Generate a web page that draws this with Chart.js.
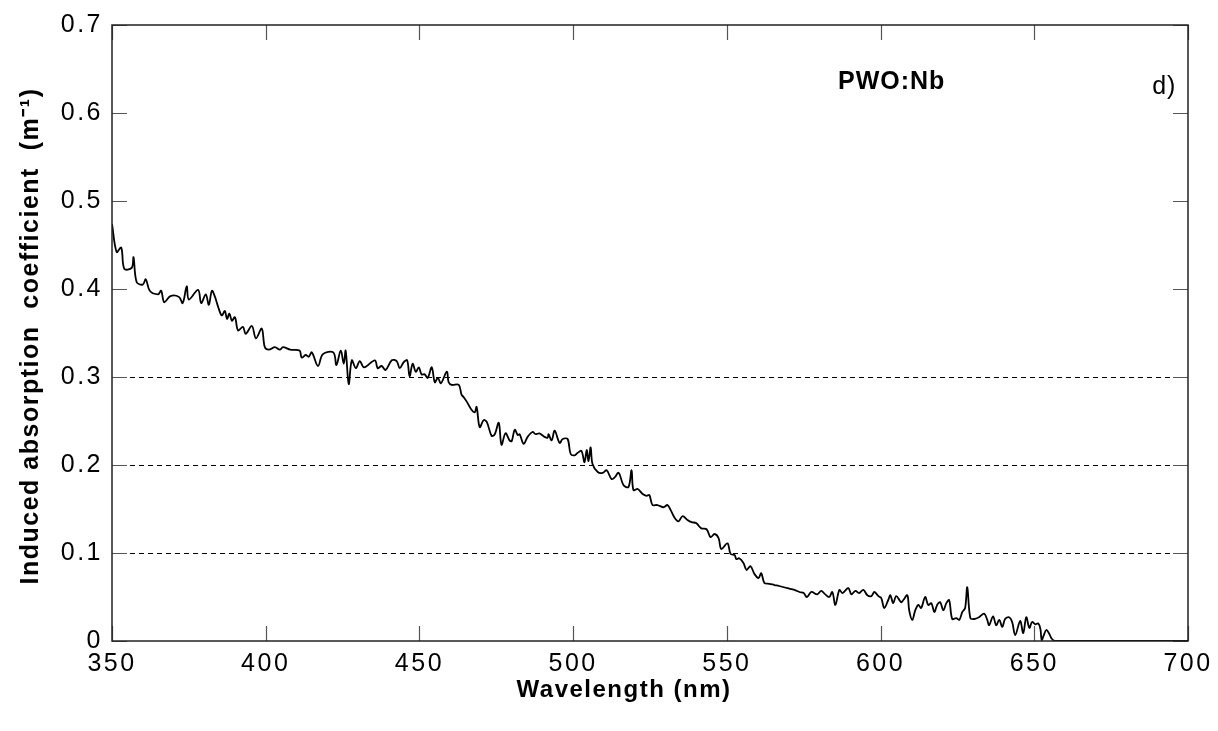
<!DOCTYPE html>
<html>
<head>
<meta charset="utf-8">
<script src="https://cdn.jsdelivr.net/npm/chart.js@4/dist/chart.umd.min.js"></script>
<style>
  html, body { margin: 0; padding: 0; background: #fff; }
  #wrap { width: 1218px; height: 731px; }
</style>
</head>
<body>
<div id="wrap"><canvas id="c" width="1218" height="731"></canvas></div>
<script>
// ---- data ----
const wavelength = [
  350, 351.5, 353, 354, 356.4, 357, 358, 360, 361, 362.3, 365, 366, 367, 369, 371.8, 373, 374.3, 375,
  378, 379, 380.5, 381.5, 382.5, 383.5, 384.5, 385.7, 386.7, 387.4, 388.2, 389, 390, 391, 392.6, 393.5,
  395.5, 396.8, 398.7, 399.7, 401, 403, 404.6, 405.6, 408, 411, 411.7, 413, 414, 415, 417, 418.6, 422,
  423, 424.4, 425.4, 426, 427, 428, 429.3, 430.6, 432, 435.5, 436.4, 437.7, 439, 441, 442.6, 443.6,
  444.9, 446, 446.8, 447.8, 448.8, 449.8, 450.7, 451.7, 452.7, 454, 455, 456, 457, 458.9, 459.5, 460.5,
  462.8, 463.7, 464.4, 465.4, 467, 468, 468.6, 469.6, 470.9, 471.9, 473.5, 474.5, 475.8, 476.7, 478,
  479.3, 480, 481, 482, 482.6, 483.9, 485.2, 486.8, 487.8, 489, 490.7, 491.7, 492, 493, 494, 495.6,
  496.6, 498.2, 499.2, 500.5, 501.4, 502.7, 503.7, 504.4, 505, 505.7, 506.3, 508, 509.6, 510.9, 512.5,
  513.5, 514.8, 516.4, 518, 519, 519.6, 521, 522.6, 523.9, 524.8, 525.8, 527.4, 529.4, 530.7, 531.7,
  533, 534.3, 535.6, 537.2, 538.5, 540, 541.7, 543.4, 544.7, 546, 547.3, 548.2, 550.2, 551.2, 552.5,
  553.1, 554, 555.4, 556.4, 557.7, 559, 560.3, 561.2, 562.2, 563.8, 565.5, 567, 569.7, 572, 573.6, 575,
  576, 577.5, 579.4, 580.7, 582, 583.3, 584.3, 585.3, 586.6, 587.6, 589.5, 590.5, 591.8, 593, 594.4,
  595.7, 597, 598, 599.3, 600.2, 601.2, 602.5, 603.2, 604.1, 605.1, 606.7, 607.4, 608.7, 609.3, 610.3,
  611.3, 612.3, 613.2, 614.5, 615.5, 616.5, 617.5, 618.4, 619.4, 620.4, 621.4, 622.3, 623.3, 624.6,
  625.6, 626.6, 627.5, 628.2, 629.2, 630.5, 632, 633.7, 634.7, 635.3, 636.6, 637.6, 638.6, 639.6, 640.5,
  641.8, 642.8, 643.8, 645.4, 646.4, 647.4, 648.4, 649.3, 650.3, 651.3, 652, 652.4, 653, 653.9, 654.9,
  655.6, 656.8, 700
];
const absorption = [
  0.474, 0.442, 0.447, 0.423, 0.424, 0.436, 0.408, 0.405, 0.411, 0.398, 0.394, 0.398, 0.385, 0.392, 0.391, 0.384, 0.403, 0.388,
  0.399, 0.384, 0.394, 0.382, 0.398, 0.391, 0.380, 0.370, 0.375, 0.366, 0.372, 0.364, 0.368, 0.353, 0.357, 0.349,
  0.358, 0.344, 0.355, 0.334, 0.331, 0.334, 0.331, 0.334, 0.331, 0.330, 0.322, 0.325, 0.323, 0.328, 0.3125, 0.326, 0.328,
  0.3136, 0.330, 0.315, 0.330, 0.292, 0.319, 0.310, 0.318, 0.311, 0.319, 0.310, 0.3125, 0.308, 0.319, 0.318, 0.310,
  0.317, 0.319, 0.301, 0.315, 0.306, 0.311, 0.303, 0.303, 0.299, 0.311, 0.294, 0.299, 0.293, 0.306, 0.294, 0.291,
  0.291, 0.280, 0.277, 0.272, 0.2625, 0.260, 0.266, 0.243, 0.251, 0.249, 0.233, 0.235, 0.248, 0.223, 0.236,
  0.228, 0.227, 0.240, 0.234, 0.235, 0.224, 0.232, 0.2375, 0.235, 0.236, 0.232, 0.231, 0.235, 0.228, 0.239, 0.225,
  0.2295, 0.2295, 0.2125, 0.211, 0.2136, 0.216, 0.203, 0.217, 0.2045, 0.220, 0.201, 0.192, 0.191, 0.194, 0.184,
  0.186, 0.191, 0.177, 0.175, 0.194, 0.1716, 0.1727, 0.167, 0.165, 0.166, 0.1545, 0.1545, 0.152, 0.1545, 0.149,
  0.140, 0.136, 0.142, 0.1375, 0.135, 0.134, 0.128, 0.127, 0.118, 0.1216, 0.117, 0.1045, 0.111, 0.099, 0.0977,
  0.093, 0.094, 0.0886, 0.0807, 0.085, 0.076, 0.0716, 0.077, 0.066, 0.065, 0.0636, 0.0625, 0.060, 0.058, 0.0557, 0.0545,
  0.050, 0.0557, 0.053, 0.057, 0.053, 0.050, 0.0557, 0.041, 0.058, 0.0545, 0.0602, 0.053, 0.057, 0.0545, 0.058,
  0.052, 0.051, 0.0557, 0.051, 0.049, 0.0375, 0.0466, 0.052, 0.043, 0.051, 0.044, 0.0466, 0.052, 0.035, 0.0239,
  0.035, 0.041, 0.0375, 0.050, 0.041, 0.043, 0.033, 0.041, 0.044, 0.035, 0.043, 0.0466, 0.025, 0.026,
  0.024, 0.033, 0.0375, 0.061, 0.026, 0.025, 0.027, 0.031, 0.024, 0.018, 0.028, 0.018, 0.024, 0.016, 0.025,
  0.027, 0.0216, 0.0068, 0.0227, 0.009, 0.027, 0.015, 0.0216, 0.019, 0.020, 0.0136, 0.001, 0.0057, 0.0125, 0.008,
  0.003, 0, 0
];
const xTicks = [350, 400, 450, 500, 550, 600, 650, 700];
const xTickLabels = ['350', '400', '450', '500', '550', '600', '650', '700'];
const yTicks = [0, 0.1, 0.2, 0.3, 0.4, 0.5, 0.6, 0.7];
const yTickLabels = ['0', '0.1', '0.2', '0.3', '0.4', '0.5', '0.6', '0.7'];
const dashedGridValues = [0.1, 0.2, 0.3];
const xTitle = 'Wavelength (nm)';
const yTitle = 'Induced absorption  coefficient  (m\u207B\u00B9)';
const sampleLabel = 'PWO:Nb';
const panelLabel = 'd)';

const points = wavelength.map((w, i) => ({ x: w, y: absorption[i] }));

const FONT = '"Liberation Sans", Arial, Helvetica, sans-serif';

const framePlugin = {
  id: 'frame',
  beforeDraw(chart) {
    chart.ctx.letterSpacing = '2.5px';
  },
  beforeDatasetsDraw(chart) {
    const { ctx, chartArea: a, scales } = chart;
    ctx.save();
    ctx.letterSpacing = '0px';
    ctx.strokeStyle = '#000';
    ctx.lineWidth = 1;
    ctx.setLineDash([5, 4]);
    dashedGridValues.forEach(v => {
      const y = Math.round(scales.y.getPixelForValue(v)) + 0.5;
      ctx.beginPath();
      ctx.moveTo(a.left, y);
      ctx.lineTo(a.right, y);
      ctx.stroke();
    });
    ctx.setLineDash([]);
    ctx.strokeStyle = '#555';
    ctx.lineWidth = 1.2;
    const L = 15;
    xTicks.forEach(v => {
      const x = Math.round(scales.x.getPixelForValue(v)) + 0.5;
      ctx.beginPath();
      ctx.moveTo(x, a.bottom); ctx.lineTo(x, a.bottom - L);
      ctx.moveTo(x, a.top); ctx.lineTo(x, a.top + L);
      ctx.stroke();
    });
    yTicks.forEach(v => {
      const y = Math.round(scales.y.getPixelForValue(v)) + 0.5;
      ctx.beginPath();
      ctx.moveTo(a.left, y); ctx.lineTo(a.left + L, y);
      ctx.moveTo(a.right, y); ctx.lineTo(a.right - L, y);
      ctx.stroke();
    });
    ctx.restore();
  },
  afterDraw(chart) {
    const { ctx, chartArea: a, scales } = chart;
    ctx.save();
    ctx.strokeStyle = '#222';
    ctx.lineWidth = 1.5;
    ctx.strokeRect(a.left, a.top, a.right - a.left, a.bottom - a.top);
    ctx.fillStyle = '#000';
    ctx.letterSpacing = '1.5px';
    ctx.font = 'bold 24px ' + FONT;
    ctx.textAlign = 'center';
    ctx.textBaseline = 'middle';
    ctx.fillText(xTitle, 624, 690);
    ctx.save();
    ctx.translate(31, 336);
    ctx.rotate(-Math.PI / 2);
    ctx.letterSpacing = '1.5px';
    ctx.font = 'bold 25px ' + FONT;
    ctx.fillText(yTitle, 0, 0);
    ctx.restore();
    ctx.letterSpacing = '1px';
    ctx.font = 'bold 25px ' + FONT;
    ctx.fillText(sampleLabel, scales.x.getPixelForValue(603.6), scales.y.getPixelForValue(0.635));
    ctx.font = '25px ' + FONT;
    ctx.fillText(panelLabel, scales.x.getPixelForValue(692.3), scales.y.getPixelForValue(0.629));
    ctx.restore();
  }
};

new Chart(document.getElementById('c'), {
  type: 'line',
  data: {
    datasets: [{
      data: points,
      borderColor: '#000',
      borderWidth: 1.8,
      pointRadius: 0,
      tension: 0.35,
      fill: false
    }]
  },
  options: {
    responsive: false,
    animation: false,
    events: [],
    layout: { padding: { top: 25, right: 30, left: 0, bottom: 0 } },
    plugins: { legend: { display: false }, tooltip: { enabled: false } },
    scales: {
      x: {
        type: 'linear',
        min: 350, max: 700,
        afterBuildTicks: s => { s.ticks = xTicks.map(v => ({ value: v })); },
        ticks: {
          color: '#000',
          font: { family: FONT, size: 25 },
          padding: 8,
          maxRotation: 0,
          callback: (v) => { const i = xTicks.indexOf(v); return i >= 0 ? xTickLabels[i] : ''; }
        },
        grid: { display: false, drawTicks: false },
        border: { display: false },
        afterFit: s => { s.height = 90; }
      },
      y: {
        type: 'linear',
        min: 0, max: 0.7,
        afterBuildTicks: s => { s.ticks = yTicks.map(v => ({ value: v })); },
        ticks: {
          color: '#000',
          font: { family: FONT, size: 25 },
          padding: 9,
          callback: (v) => { const i = yTicks.findIndex(t => Math.abs(t - v) < 1e-9); return i >= 0 ? yTickLabels[i] : ''; }
        },
        grid: { display: false, drawTicks: false },
        border: { display: false },
        afterFit: s => { s.width = 112; }
      }
    }
  },
  plugins: [framePlugin]
});
</script>
</body>
</html>
